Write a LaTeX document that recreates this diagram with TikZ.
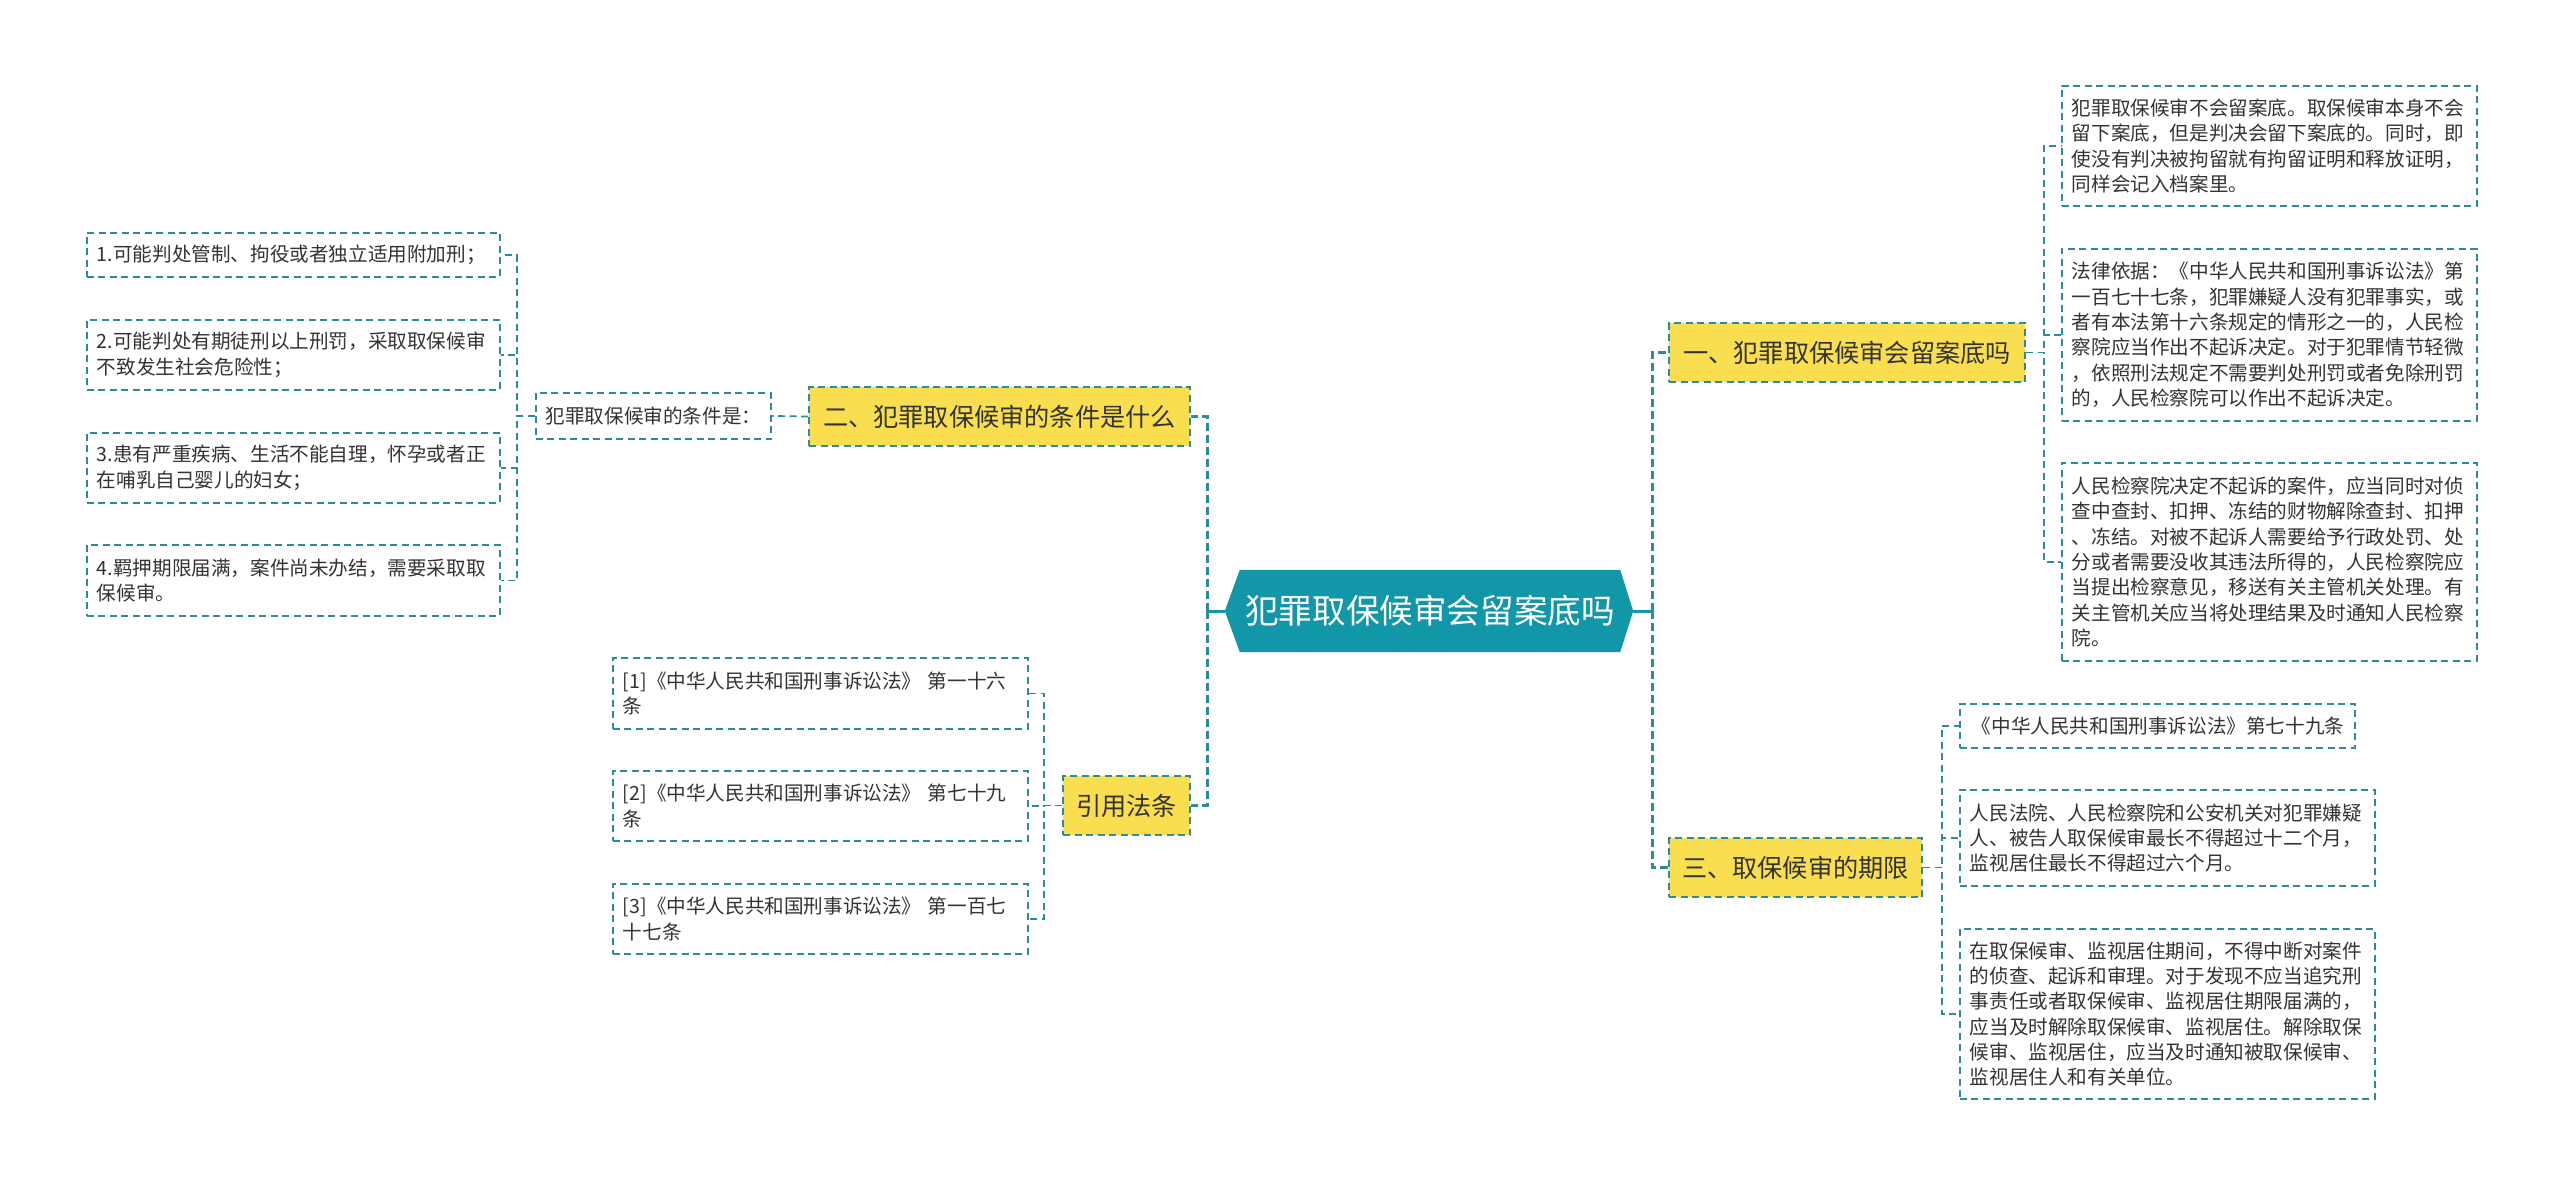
\documentclass[tikz,border=0pt]{standalone}
\usepackage{fontspec}
\setmainfont{Noto Sans CJK SC}
\usetikzlibrary{calc,backgrounds}
\definecolor{lnc}{HTML}{2C8D99}
\definecolor{ctr}{HTML}{1197A7}
\definecolor{ylw}{HTML}{F9DF4F}
\definecolor{txt}{HTML}{333333}
\begin{document}
\begin{tikzpicture}[x=1pt,y=-1pt,
  leaf/.style={draw=lnc, line width=1.8pt, dash pattern=on 7pt off 4.5pt, anchor=north west,
    inner xsep=10pt, inner ysep=0pt, align=left, text=txt, font=\fontsize{19.6}{25.3}\selectfont},
  ybox/.style={draw=lnc, fill=ylw, line width=2pt, dash pattern=on 7pt off 4.5pt,
    inner sep=0pt, minimum height=59pt, text=txt, font=\fontsize{25.2}{30}\selectfont},
  conn/.style={draw=lnc, line width=1.8pt, dash pattern=on 7pt off 4.5pt},
  mconn/.style={draw=lnc, line width=3pt, dash pattern=on 8pt off 4pt},
  msolid/.style={draw=ctr, line width=3pt}]
\useasboundingbox (0,0) rectangle (2560,1184);

% centre
\node[font=\fontsize{33.6}{40}\selectfont, text=white, minimum width=380pt, minimum height=82pt, inner sep=0pt] (c) at (1430,611) {犯罪取保候审会留案底吗};
\coordinate (cR) at ($(c.east)+(13,0)$);
\coordinate (cL) at ($(c.west)+(-15,0)$);
\begin{pgfonlayer}{background}
\fill[white] (0,0) rectangle (2560,1184);
\fill[ctr] (c.north west) -- (c.north east) -- (cR) -- (c.south east) -- (c.south west) -- (cL) -- cycle;
\end{pgfonlayer}
\coordinate (jR) at ($(cR)+(19,0)$);
\coordinate (jL) at ($(cL)+(-17,0)$);

% main branches
\node[ybox, minimum width=356pt] (b1) at (1847,352.5) {一、犯罪取保候审会留案底吗};
\node[ybox, minimum width=253pt] (b3) at (1795.5,867.5) {三、取保候审的期限};
\node[ybox, minimum width=381pt] (b2) at (999.5,416.5) {二、犯罪取保候审的条件是什么};
\node[ybox, minimum width=127pt] (b4) at (1126.5,805.5) {引用法条};

% branch 1 children
\node[leaf, text width=395pt, minimum height=120pt] (r1) at (2061,85) {犯罪取保候审不会留案底。取保候审本身不会\\留下案底，但是判决会留下案底的。同时，即\\使没有判决被拘留就有拘留证明和释放证明，\\同样会记入档案里。};
\node[leaf, text width=395pt, minimum height=172pt] (r2) at (2061,248) {法律依据：《中华人民共和国刑事诉讼法》第\\一百七十七条，犯罪嫌疑人没有犯罪事实，或\\者有本法第十六条规定的情形之一的，人民检\\察院应当作出不起诉决定。对于犯罪情节轻微\\，依照刑法规定不需要判处刑罚或者免除刑罚\\的，人民检察院可以作出不起诉决定。};
\node[leaf, text width=395pt, minimum height=198pt] (r3) at (2061,462) {人民检察院决定不起诉的案件，应当同时对侦\\查中查封、扣押、冻结的财物解除查封、扣押\\、冻结。对被不起诉人需要给予行政处罚、处\\分或者需要没收其违法所得的，人民检察院应\\当提出检察意见，移送有关主管机关处理。有\\关主管机关应当将处理结果及时通知人民检察\\院。};

% branch 3 children
\node[leaf, inner xsep=12pt, text width=371pt, minimum height=44pt] (t1) at (1959,703) {《中华人民共和国刑事诉讼法》第七十九条};
\node[leaf, text width=395pt, minimum height=96pt] (t2) at (1959,789) {人民法院、人民检察院和公安机关对犯罪嫌疑\\人、被告人取保候审最长不得超过十二个月，\\监视居住最长不得超过六个月。};
\node[leaf, text width=395pt, minimum height=170pt] (t3) at (1959,928) {在取保候审、监视居住期间，不得中断对案件\\的侦查、起诉和审理。对于发现不应当追究刑\\事责任或者取保候审、监视居住期限届满的，\\应当及时解除取保候审、监视居住。解除取保\\候审、监视居住，应当及时通知被取保候审、\\监视居住人和有关单位。};

% branch 2 children
\node[draw=lnc, line width=1.8pt, dash pattern=on 7pt off 4.5pt, inner xsep=10pt, inner ysep=0pt,
  minimum height=46pt, text=txt, font=\fontsize{19.6}{25.3}\selectfont] (k) at (653.5,416) {犯罪取保候审的条件是：};
\node[leaf, text width=393pt, minimum height=44pt] (l1) at (86,232) {1.可能判处管制、拘役或者独立适用附加刑；};
\node[leaf, text width=393pt, minimum height=70pt] (l2) at (86,319) {2.可能判处有期徒刑以上刑罚，采取取保候审\\不致发生社会危险性；};
\node[leaf, text width=393pt, minimum height=70pt] (l3) at (86,432) {3.患有严重疾病、生活不能自理，怀孕或者正\\在哺乳自己婴儿的妇女；};
\node[leaf, text width=393pt, minimum height=71pt] (l4) at (86,544) {4.羁押期限届满，案件尚未办结，需要采取取\\保候审。};

% branch 4 children
\node[leaf, text width=395pt, minimum height=71pt] (q1) at (612,657) {[1]《中华人民共和国刑事诉讼法》 第一十六\\条};
\node[leaf, text width=395pt, minimum height=70pt] (q2) at (612,770) {[2]《中华人民共和国刑事诉讼法》 第七十九\\条};
\node[leaf, text width=395pt, minimum height=70pt] (q3) at (612,883) {[3]《中华人民共和国刑事诉讼法》 第一百七\\十七条};

% main connectors
\draw[msolid] (cR) -- (jR);
\draw[mconn] (jR) |- (b1.west);
\draw[mconn] (jR) |- (b3.west);
\draw[msolid] (cL) -- (jL);
\draw[mconn] (jL) |- (b2.east);
\draw[mconn] (jL) |- (b4.east);

% sub connectors
\draw[conn] (b1.east) -- ++(18,0) |- (r1.west);
\draw[conn] (b1.east) -- ++(18,0) |- (r2.west);
\draw[conn] (b1.east) -- ++(18,0) |- (r3.west);
\draw[conn] (b3.east) -- ++(19,0) |- (t1.west);
\draw[conn] (b3.east) -- ++(19,0) |- (t2.west);
\draw[conn] (b3.east) -- ++(19,0) |- (t3.west);
\draw[conn] (b2.west) -- (k.east);
\draw[conn] (k.west) -- ++(-18,0) |- (l1.east);
\draw[conn] (k.west) -- ++(-18,0) |- (l2.east);
\draw[conn] (k.west) -- ++(-18,0) |- (l3.east);
\draw[conn] (k.west) -- ++(-18,0) |- (l4.east);
\draw[conn] (b4.west) -- ++(-18,0) |- (q1.east);
\draw[conn] (b4.west) -- ++(-18,0) |- (q2.east);
\draw[conn] (b4.west) -- ++(-18,0) |- (q3.east);
\end{tikzpicture}
\end{document}
